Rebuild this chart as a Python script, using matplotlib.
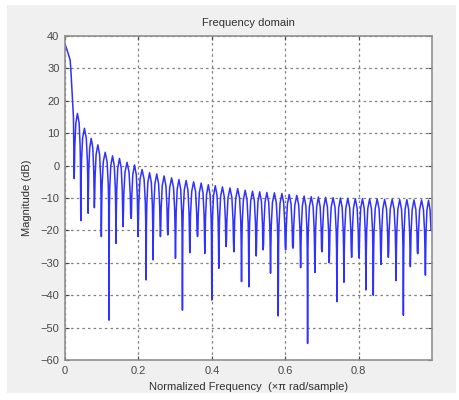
import numpy as np
import matplotlib
matplotlib.use("Agg")
import matplotlib.pyplot as plt
from matplotlib.patches import Rectangle

plt.rcParams['font.family'] = ['Liberation Sans', 'DejaVu Sans']

# main lobe (normalized freq, dB)
main_freq = [0.0, 0.007, 0.014, 0.016, 0.020, 0.023]
main_db = [37.5, 35.2, 32.6, 29.5, 21.3, 15.0]

# nulls between side lobes: position and depth
null_freq = [0.025, 0.043, 0.063, 0.080, 0.099, 0.120, 0.139, 0.158, 0.180, 0.199,
             0.221, 0.240, 0.260, 0.280, 0.301, 0.320, 0.340, 0.361, 0.381, 0.400,
             0.419, 0.439, 0.460, 0.481, 0.501, 0.521, 0.540, 0.560, 0.581, 0.601,
             0.621, 0.642, 0.661, 0.681, 0.700, 0.720, 0.741, 0.760, 0.781, 0.801,
             0.820, 0.840, 0.861, 0.881, 0.902, 0.922, 0.941, 0.961, 0.982]
null_db = [-4.0, -17.0, -14.7, -13.0, -21.9, -47.7, -24.0, -18.8, -16.3, -21.9,
           -35.3, -29.1, -21.9, -21.4, -28.6, -44.6, -26.9, -21.9, -27.1, -41.5,
           -31.7, -25.0, -26.6, -35.8, -37.4, -27.9, -26.0, -33.2, -46.4, -26.0,
           -25.5, -31.5, -54.9, -33.0, -26.6, -30.0, -42.0, -36.0, -28.3, -28.5,
           -38.4, -40.0, -30.5, -28.3, -35.5, -46.2, -31.2, -27.2, -33.8]

# side lobe peak levels (one per lobe, after each null)
peak_db = [16.1, 11.5, 8.4, 6.4, 4.1, 3.0, 2.2, 1.0, 0.2, -1.2,
           -2.2, -2.6, -3.2, -3.8, -4.3, -4.6, -5.0, -5.4, -5.9, -6.2,
           -6.6, -6.9, -7.1, -7.6, -7.9, -8.1, -8.3, -8.4, -8.6, -8.9,
           -9.2, -9.4, -9.6, -9.7, -9.8, -9.9, -10.0, -10.1, -10.2, -10.2,
           -10.3, -10.3, -10.4, -10.4, -10.5, -10.5, -10.6, -10.6, -10.7]

end_freq = 0.999
end_db = -20.0

# rounded top of each lobe: fraction across lobe, dB below peak
lobe_frac = [0.05, 0.1, 0.25, 0.5, 0.75, 0.9, 0.95]
lobe_drop = [16, 10, 3, 0, 3, 10, 16]

xs = list(main_freq)
ys = list(main_db)
edges_f = null_freq + [end_freq]
edges_db = null_db + [end_db]
for i, pk in enumerate(peak_db):
    f0, f1 = edges_f[i], edges_f[i + 1]
    xs.append(f0)
    ys.append(edges_db[i])
    for frac, drop in zip(lobe_frac, lobe_drop):
        floor = edges_db[i] if frac < 0.5 else edges_db[i + 1]
        xs.append(f0 + frac * (f1 - f0))
        ys.append(max(pk - drop, floor))
xs.append(end_freq)
ys.append(end_db)

fig = plt.figure(figsize=(4.59, 4.0), dpi=100, facecolor='white')
panel = Rectangle((7 / 459, 7 / 400), 449 / 459, 388 / 400,
                  transform=fig.transFigure, facecolor='#f0f0f0',
                  edgecolor='none', zorder=-10)
fig.add_artist(panel)

ax = fig.add_axes([65 / 459, 40 / 400, 367 / 459, 324 / 400])
ax.set_zorder(5)
ax.set_facecolor('white')
ax.plot(xs, ys, color='#3030ff', linewidth=1.1)

ax.set_xlim(0, 1)
ax.set_ylim(-60, 40)
ax.set_xticks([0, 0.2, 0.4, 0.6, 0.8])
ax.set_xticklabels(['0', '0.2', '0.4', '0.6', '0.8'])
ax.set_yticks(np.arange(-60, 41, 10))
ax.grid(True, color='#808080', linestyle=(0, (2, 2.5)), linewidth=0.9)
ax.tick_params(direction='in', length=3, labelsize=8, colors='#484848',
               top=True, right=True, pad=4)
for sp in ax.spines.values():
    sp.set_color('#909090')
    sp.set_linewidth(1.2)

ax.set_title('Frequency domain', fontsize=8, color='#303030', pad=7)
ax.set_xlabel('Normalized Frequency  (\u00d7\u03c0 rad/sample)', fontsize=8,
              color='#303030', labelpad=5)
ax.set_ylabel('Magnitude (dB)', fontsize=8, color='#303030', labelpad=6)

fig.savefig('out.png', dpi=100, facecolor=fig.get_facecolor())
